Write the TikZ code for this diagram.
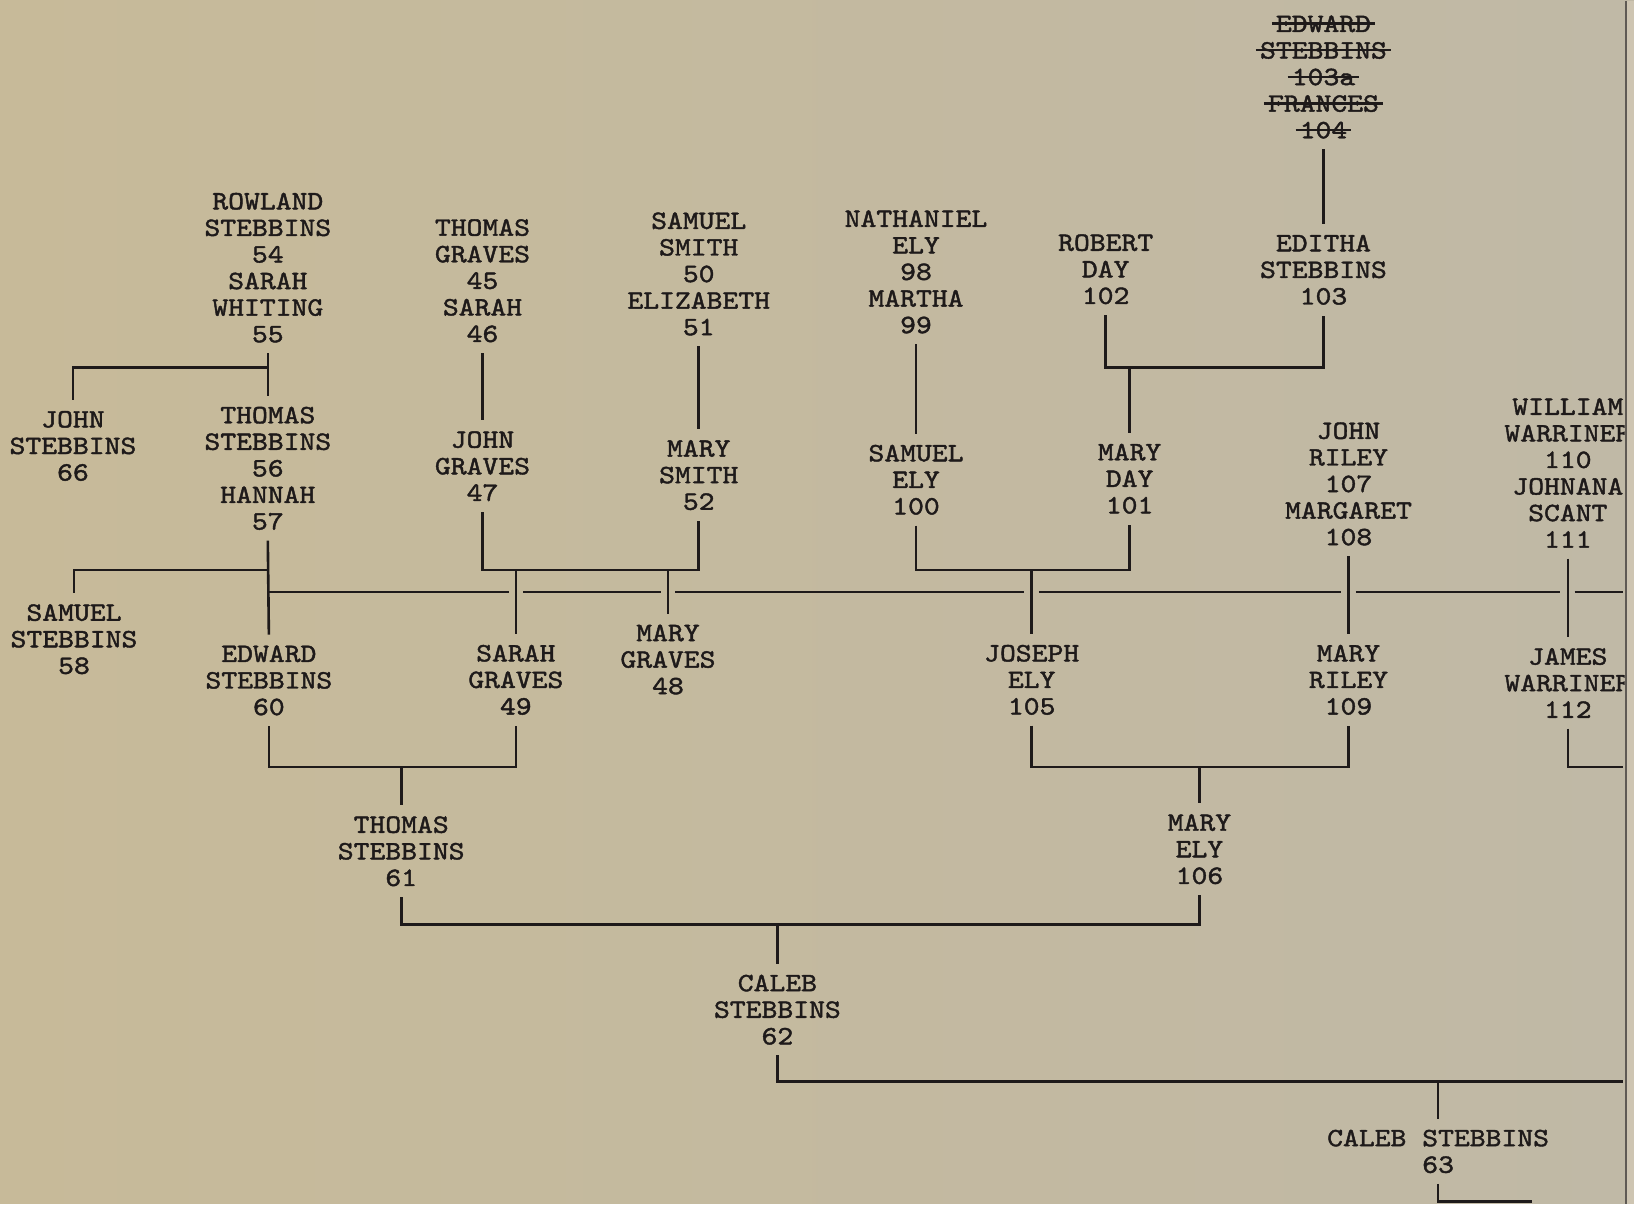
\documentclass[tikz,border=0pt]{standalone}
\usepackage{fontspec}
\setmonofont{lmmono10-regular}[Extension=.otf, FakeStretch=1.14, FakeBold=1.6]
\definecolor{paperL}{RGB}{199,186,153}
\definecolor{paperR}{RGB}{192,185,166}
\definecolor{ink}{RGB}{30,26,26}
\definecolor{edge}{RGB}{95,90,84}
\definecolor{strip}{RGB}{206,197,178}

% gach ngang mot dong chu
\newsavebox{\strikebox}
\newcommand{\strikeword}[1]{\sbox{\strikebox}{#1}%
  \rlap{\kern-2pt\rule[3.4pt]{\dimexpr\wd\strikebox+4pt\relax}{1.2pt}}\usebox{\strikebox}}

\tikzset{
  person/.style={align=center, inner xsep=2pt, inner ysep=5pt, text=ink,
    font=\ttfamily\fontsize{12.7}{12.75}\selectfont},
  tie/.style={draw=ink, line width=1.25pt}
}

\begin{document}
\begin{tikzpicture}[x=0.5pt, y=-0.5pt]
    % Nền giấy và mép trang bên phải
    \shade[left color=paperL, right color=paperR] (0,0) rectangle (1568,1154);
    \fill[strip] (1560,0) rectangle (1568,1154);
    \draw[edge, line width=0.9pt] (1560,0) -- (1560,1154);
    \useasboundingbox (0,0) rectangle (1568,1154);

    \begin{scope}
    \clip (0,0) rectangle (1559,1154);

    % Nhánh Stebbins
    \node[person] (n54) at (257,256) {ROWLAND\\STEBBINS\\54\\SARAH\\WHITING\\55};
    \node[person] (n66) at (70,427) {JOHN\\STEBBINS\\66};
    \node[person] (n56) at (257,448.5) {THOMAS\\STEBBINS\\56\\HANNAH\\57};
    \node[person] (n58) at (71,612.5) {SAMUEL\\STEBBINS\\58};
    \node[person] (n60) at (258,652) {EDWARD\\STEBBINS\\60};

    % Nhánh Graves va Smith
    \node[person] (n45) at (463,268.5) {THOMAS\\GRAVES\\45\\SARAH\\46};
    \node[person] (n47) at (463,446.5) {JOHN\\GRAVES\\47};
    \node[person] (n50) at (670.5,262) {SAMUEL\\SMITH\\50\\ELIZABETH\\51};
    \node[person] (n52) at (670.5,455) {MARY\\SMITH\\52};
    \node[person] (n49) at (495,651.5) {SARAH\\GRAVES\\49};
    \node[person] (n48) at (641,632) {MARY\\GRAVES\\48};

    % Nhánh Ely va Day
    \node[person] (n98) at (879,260) {NATHANIEL\\ELY\\98\\MARTHA\\99};
    \node[person] (n100) at (879,459.5) {SAMUEL\\ELY\\100};
    \node[person] (n102) at (1061,257.5) {ROBERT\\DAY\\102};
    \node[person] (n103) at (1270,258) {EDITHA\\STEBBINS\\103};
    \node[person] (n103x) at (1270,73) {\strikeword{EDWARD}\\\strikeword{STEBBINS}\\\strikeword{103a}\\\strikeword{FRANCES}\\\strikeword{104}};
    \node[person] (n101) at (1084,458.5) {MARY\\DAY\\101};
    \node[person] (n105) at (990,651.5) {JOSEPH\\ELY\\105};

    % Nhánh Riley va Warriner
    \node[person] (n107) at (1294,463.5) {JOHN\\RILEY\\107\\MARGARET\\108};
    \node[person] (n109) at (1294,651.5) {MARY\\RILEY\\109};
    \node[person] (n110) at (1504.5,453) {WILLIAM\\WARRINER\\110\\JOHNANA\\SCANT\\111};
    \node[person] (n112) at (1504.5,654.5) {JAMES\\WARRINER\\112};

    % Cac the he duoi
    \node[person] (n61) at (385,816) {THOMAS\\STEBBINS\\61};
    \node[person] (n106) at (1151,814) {MARY\\ELY\\106};
    \node[person] (n62) at (746,968) {CALEB\\STEBBINS\\62};
    \node[person] (n63) at (1380,1104) {CALEB STEBBINS\\63};

    % Diem noi
    \coordinate (r1) at (257,352);
    \coordinate (t1) at (257,546);
    \coordinate (m1) at (495,546);
    \coordinate (m2) at (990,546);
    \coordinate (m3) at (1084,352);
    \coordinate (m4) at (385,735);
    \coordinate (m5) at (1151,735);
    \coordinate (m6) at (746,886);
    \coordinate (m7) at (1380,1037);
    \coordinate (e1) at (1557,735);
    \coordinate (e2) at (1557,1037);
    \coordinate (e3) at (1470,1152);

    % Duong noi
    \draw[tie] (n54.south) -- (n56.north);
    \draw[tie] (r1) -| (n66.north);
    \draw[tie] (n56.south) -- (n60.north);
    \draw[tie] (t1) -| (n58.north);
    \foreach \a/\b in {257/488, 502/634, 648/983, 997/1287, 1301/1497, 1511/1557}
        \draw[tie] (\a,567) -- (\b,567);

    \draw[tie] (n45.south) -- (n47.north);
    \draw[tie] (n50.south) -- (n52.north);
    \draw[tie] (n47.south) |- (m1) -| (n52.south);
    \draw[tie] (m1) -- (n49.north);
    \draw[tie] (m1 -| n48.north) -- (n48.north);

    \draw[tie] (n98.south) -- (n100.north);
    \draw[tie] (n103x.south) -- (n103.north);
    \draw[tie] (n102.south) |- (m3) -| (n103.south);
    \draw[tie] (m3) -- (n101.north);
    \draw[tie] (n100.south) |- (m2) -| (n101.south);
    \draw[tie] (m2) -- (n105.north);

    \draw[tie] (n107.south) -- (n109.north);
    \draw[tie] (n110.south) -- (n112.north);
    \draw[tie] (n112.south) |- (e1);

    \draw[tie] (n60.south) |- (m4) -| (n49.south);
    \draw[tie] (m4) -- (n61.north);
    \draw[tie] (n105.south) |- (m5) -| (n109.south);
    \draw[tie] (m5) -- (n106.north);

    \draw[tie] (n61.south) |- (m6) -| (n106.south);
    \draw[tie] (m6) -- (n62.north);
    \draw[tie] (n62.south) |- (m7) -- (e2);
    \draw[tie] (m7) -- (n63.north);
    \draw[tie] (n63.south) |- (e3);
    \end{scope}
\end{tikzpicture}
\end{document}
